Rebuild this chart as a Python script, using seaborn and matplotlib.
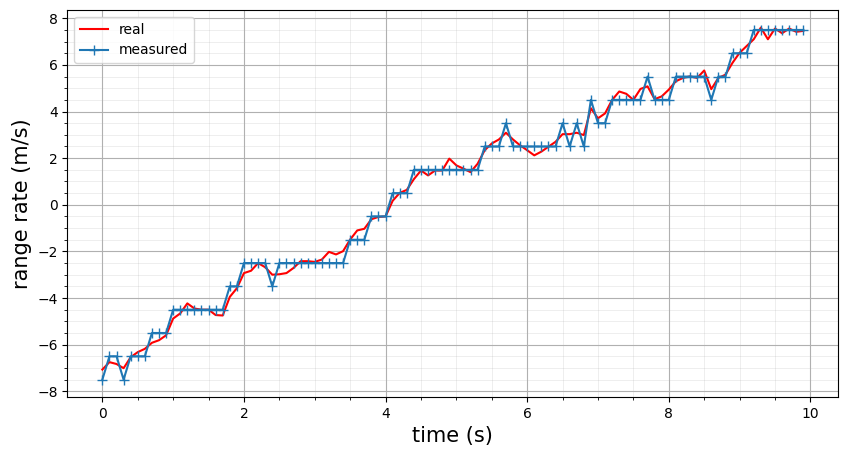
import numpy as np
import matplotlib
matplotlib.use("Agg")
import matplotlib.pyplot as plt
from matplotlib.ticker import AutoMinorLocator
import seaborn as sns

# time axis, 0.1 s steps
t = np.round(np.arange(100) * 0.1, 1)

real = [-7.07, -6.75, -6.83, -7.01, -6.54, -6.32, -6.18, -5.92, -5.81, -5.60,
        -4.88, -4.66, -4.23, -4.45, -4.50, -4.50, -4.73, -4.75, -3.95, -3.58,
        -2.93, -2.83, -2.50, -2.68, -3.00, -2.98, -2.93, -2.71, -2.42, -2.42,
        -2.45, -2.35, -2.02, -2.13, -1.99, -1.49, -1.10, -1.03, -0.62, -0.52,
        -0.50, 0.17, 0.51, 0.64, 1.10, 1.47, 1.26, 1.47, 1.47, 1.98,
        1.69, 1.55, 1.40, 1.76, 2.34, 2.63, 2.80, 3.09, 2.80, 2.55,
        2.34, 2.12, 2.28, 2.49, 2.70, 3.03, 3.03, 3.09, 2.99, 4.14,
        3.71, 3.92, 4.50, 4.86, 4.76, 4.50, 4.97, 5.08, 4.53, 4.65,
        4.94, 5.30, 5.44, 5.51, 5.44, 5.76, 4.96, 5.44, 5.58, 6.09,
        6.52, 6.81, 7.10, 7.60, 7.10, 7.56, 7.36, 7.56, 7.42, 7.46]

measured = [-7.5, -6.5, -6.5, -7.5, -6.5, -6.5, -6.5, -5.5, -5.5, -5.5,
            -4.5, -4.5, -4.5, -4.5, -4.5, -4.5, -4.5, -4.5, -3.5, -3.5,
            -2.5, -2.5, -2.5, -2.5, -3.5, -2.5, -2.5, -2.5, -2.5, -2.5,
            -2.5, -2.5, -2.5, -2.5, -2.5, -1.5, -1.5, -1.5, -0.5, -0.5,
            -0.5, 0.5, 0.5, 0.5, 1.5, 1.5, 1.5, 1.5, 1.5, 1.5,
            1.5, 1.5, 1.5, 1.5, 2.5, 2.5, 2.5, 3.5, 2.5, 2.5,
            2.5, 2.5, 2.5, 2.5, 2.5, 3.5, 2.5, 3.5, 2.5, 4.5,
            3.5, 3.5, 4.5, 4.5, 4.5, 4.5, 4.5, 5.5, 4.5, 4.5,
            4.5, 5.5, 5.5, 5.5, 5.5, 5.5, 4.5, 5.5, 5.5, 6.5,
            6.5, 6.5, 7.5, 7.5, 7.5, 7.5, 7.5, 7.5, 7.5, 7.5]

fig, ax = plt.subplots(figsize=(8.52, 4.55), dpi=100)
fig.subplots_adjust(left=0.079, right=0.984, top=0.978, bottom=0.127)

sns.lineplot(x=t, y=real, ax=ax, color='red', label='real', linewidth=1.5)
sns.lineplot(x=t, y=measured, ax=ax, color='tab:blue', label='measured',
             marker='+', markersize=6.5, markeredgewidth=1.0,
             markeredgecolor='tab:blue', linewidth=1.5)

ax.xaxis.set_minor_locator(AutoMinorLocator())
ax.yaxis.set_minor_locator(AutoMinorLocator())
ax.grid(which='major', color='#b0b0b0', linewidth=0.8)
ax.grid(which='minor', color='#b0b0b0', linewidth=0.6, alpha=0.25)
ax.set_axisbelow(True)

ax.set_xlabel('time (s)', fontsize=15)
ax.set_ylabel('range rate (m/s)', fontsize=15)
ax.legend(loc='upper left', fontsize=10)

fig.savefig('out.png')
